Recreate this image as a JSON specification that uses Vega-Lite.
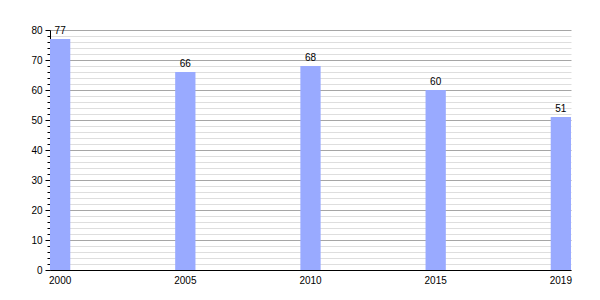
{
  "$schema": "https://vega.github.io/schema/vega-lite/v6.json",
  "width": 521,
  "height": 240,
  "autosize": {"type": "none"},
  "padding": {"left": 50, "top": 30, "right": 29, "bottom": 30},
  "background": "white",
  "config": {
    "view": {"stroke": null},
    "font": "Liberation Sans",
    "axis": {"labelFont": "Liberation Sans", "labelFontSize": 10, "labelColor": "black", "domainColor": "black", "tickColor": "black"}
  },
  "data": {
    "values": [
      {"year": "2000", "value": 77},
      {"year": "2005", "value": 66},
      {"year": "2010", "value": 68},
      {"year": "2015", "value": 60},
      {"year": "2019", "value": 51}
    ]
  },
  "encoding": {
    "x": {
      "field": "year", "type": "ordinal",
      "scale": {"paddingInner": 0.838, "paddingOuter": 0},
      "axis": {"title": null, "labelAngle": 0, "ticks": false, "labelPadding": 5, "grid": false}
    },
    "y": {
      "field": "value", "type": "quantitative",
      "scale": {"domain": [0, 80], "nice": false},
      "axis": {
        "title": null,
        "values": [0,2,4,6,8,10,12,14,16,18,20,22,24,26,28,30,32,34,36,38,40,42,44,46,48,50,52,54,56,58,60,62,64,66,68,70,72,74,76,78,80],
        "labelExpr": "datum.value % 10 === 0 ? datum.label : ''",
        "grid": true,
        "gridColor": {"condition": {"test": "datum.value % 10 === 0", "value": "#a6a6a6"}, "value": "#dedede"},
        "gridOpacity": 1,
        "tickSize": {"condition": {"test": "datum.value % 10 === 0", "value": 5}, "value": 3},
        "labelPadding": 3
      }
    }
  },
  "layer": [
    {"mark": {"type": "bar", "color": "#99aaff"}},
    {
      "mark": {"type": "text", "baseline": "bottom", "dy": -3, "fontSize": 10, "color": "black", "font": "Liberation Sans"},
      "encoding": {"text": {"field": "value", "type": "quantitative"}}
    }
  ]
}
